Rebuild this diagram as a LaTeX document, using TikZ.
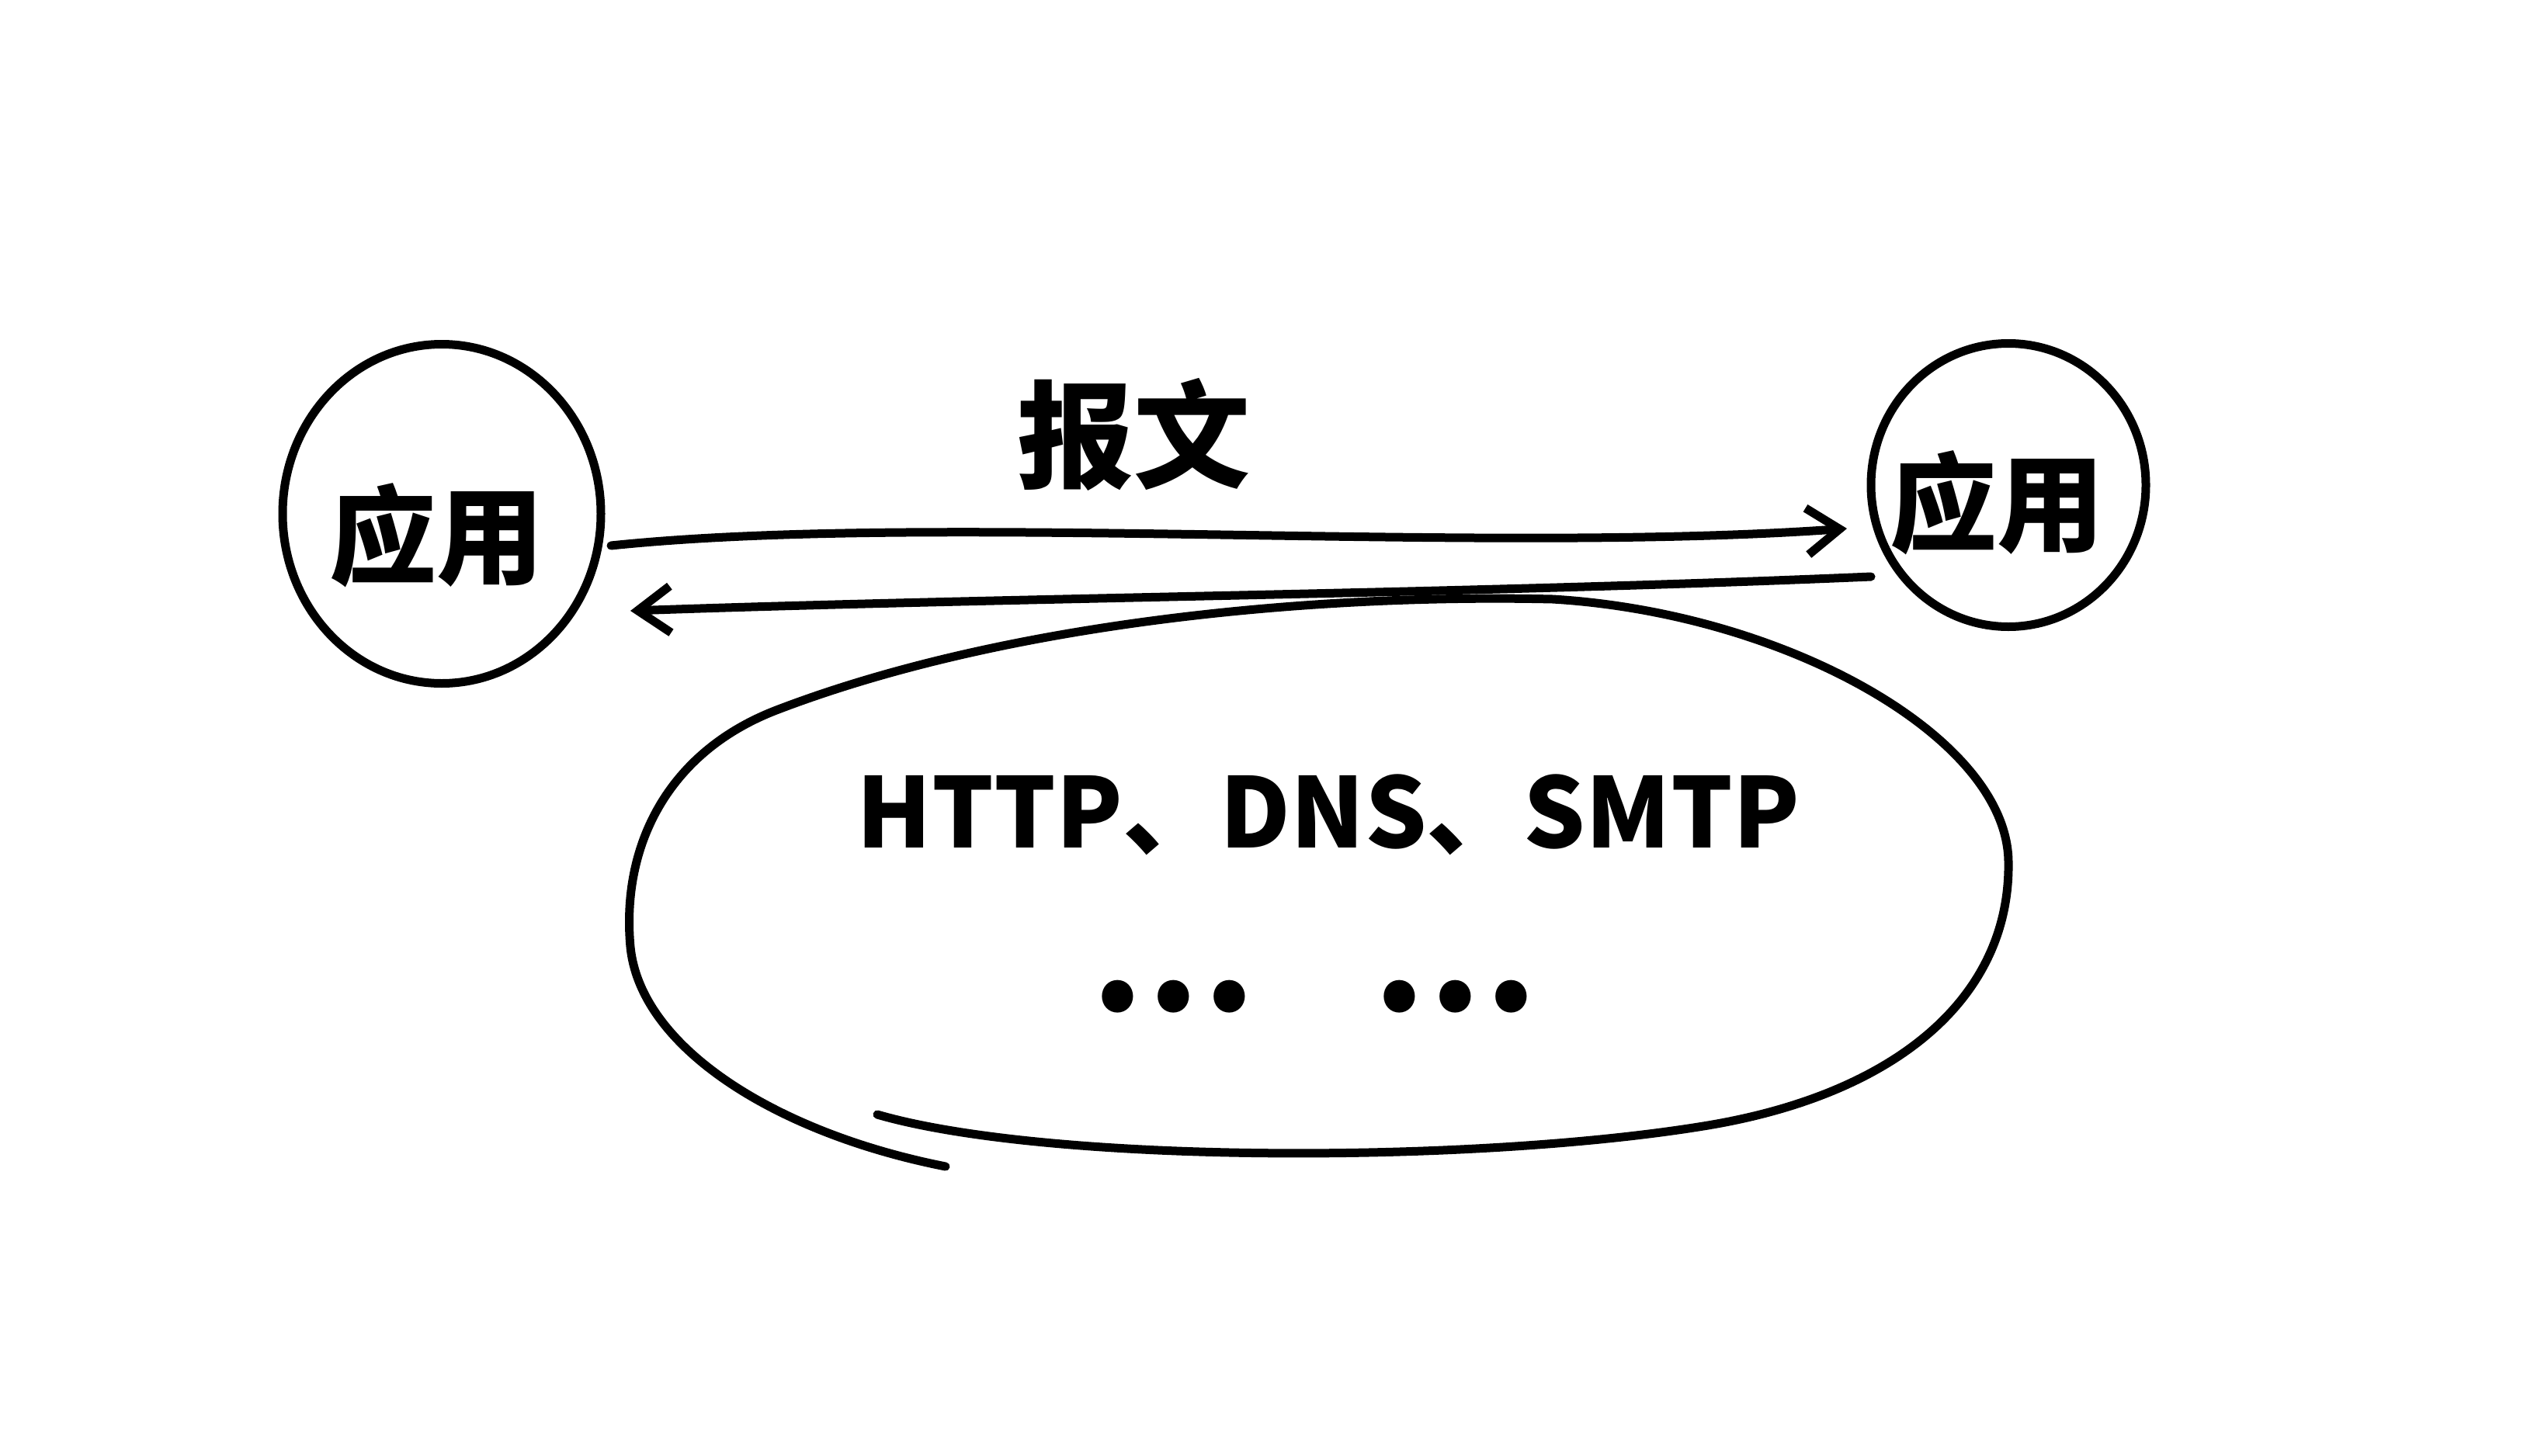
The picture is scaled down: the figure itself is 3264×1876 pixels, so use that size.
\documentclass[tikz,border=0pt]{standalone}
\usepackage{fontspec}
\newfontfamily\cjk{Noto Sans CJK SC}
\usetikzlibrary{shapes.geometric,arrows.meta}
\begin{document}
\begin{tikzpicture}[x=1pt,y=-1pt,
  ink/.style={line width=11pt, line cap=round, line join=round, black},
  bubble/.style={ink, draw, ellipse, inner sep=0pt},
  hand/.style={font=\cjk\bfseries\fontsize{138}{138}\selectfont},
  proto/.style={font=\cjk\bfseries\fontsize{125}{125}\selectfont},
  tip/.style={-{Straight Barb[length=42pt,width=60pt,line width=11pt]}}]
\useasboundingbox[fill=white] (0,0) rectangle (3264,1876);
% application circles
\node[bubble, minimum width=410pt, minimum height=437pt] (L) at (569,662) {};
\node[hand] (Lt) at (562,690) {应用};
\node[bubble, minimum width=354pt, minimum height=365pt] (R) at (2587,625) {};
\node[hand] (Rt) at (2572,648) {应用};
% message label
\node[font=\cjk\bfseries\fontsize{150}{150}\selectfont] (msg) at (1460,560) {报文};
% arrow endpoints
\coordinate (a1) at (787,703);
\coordinate (a2) at (2379,681);
\coordinate (b1) at (2410,743);
\coordinate (b2) at (812,787);
\draw[ink, tip] (a1) .. controls (1200,660) and (1900,715) .. (a2);
\draw[ink, tip] (b1) .. controls (1900,765) and (1300,770) .. (b2);
% protocol blob (open hand-drawn loop with overlapping ends)
\coordinate (s0) at (1130,1436);
\coordinate (s1) at (2200,1450);
\coordinate (s2) at (2587,1110);
\coordinate (s3) at (2000,772);
\coordinate (s4) at (1000,915);
\coordinate (s5) at (812,1220);
\coordinate (s6) at (1218,1503);
\draw[ink] (s0) .. controls (1350,1500) and (1900,1500) .. (s1)
  .. controls (2450,1408) and (2590,1280) .. (s2)
  .. controls (2585,950) and (2300,790) .. (s3)
  .. controls (1700,765) and (1300,800) .. (s4)
  .. controls (860,969) and (800,1090) .. (s5)
  .. controls (825,1350) and (1000,1460) .. (s6);
% protocol text
\node[proto] (p) at (1711,1050) {HTTP、DNS、SMTP};
\node[font=\cjk\bfseries\fontsize{190}{190}\selectfont, anchor=base] (dots) at (1692,1302) {…\hspace{150pt}…};
\end{tikzpicture}
\end{document}
